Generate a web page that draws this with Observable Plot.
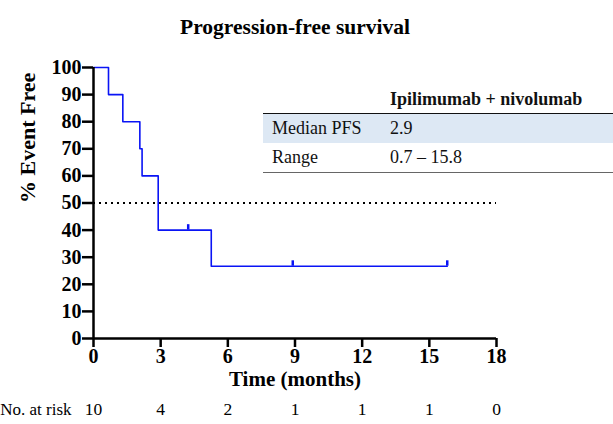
<!DOCTYPE html>
<html>
<head>
<meta charset="utf-8">
<script src="https://cdn.jsdelivr.net/npm/d3@7"></script>
<script src="https://cdn.jsdelivr.net/npm/@observablehq/plot@0.6"></script>
<style>
  body { margin: 0; background: white; }
  #wrap { position: relative; width: 613px; height: 424px; overflow: hidden; }
  #wrap svg, #wrap svg text { font-family: "Liberation Serif", "Times New Roman", Times, serif !important; }
  #tbl { position: absolute; left: 263px; top: 86px; width: 350px; border-collapse: collapse;
         font-family: "Liberation Serif", "Times New Roman", Times, serif; font-size: 18px; color: #111; }
  #tbl th { font-weight: bold; text-align: left; height: 27px; padding: 0; border-bottom: 1.5px solid #111; }
  #tbl td { height: 29px; padding: 0; }
  #tbl tr.shade td { background: #dde8f4; }
  #tbl tr.last td { border-bottom: 1.5px solid #666; }
  #tbl td.lab, #tbl th.lab { padding-left: 9px; width: 118px; }
</style>
</head>
<body>
<div id="wrap"></div>
<script>
const times = [0, 0.67, 1.31, 2.07, 2.17, 2.89, 5.26, 15.8];
const survival = [100, 90, 80, 70, 60, 40, 26.67, 26.67];
const censorTimes = [4.23, 8.9, 15.8];
const censorSurv = [40, 26.67, 26.67];
const xTicks = [0, 3, 6, 9, 12, 15, 18];
const yTicks = [0, 10, 20, 30, 40, 50, 60, 70, 80, 90, 100];
const atRisk = [10, 4, 2, 1, 1, 1, 0];
const medianLine = 50;
const tableHeader = ["", "Ipilimumab + nivolumab"];
const rowLabels = ["Median PFS", "Range"];
const rowValues = ["2.9", "0.7 \u2013 15.8"];

const curve = times.map((t, i) => ({t, s: survival[i]}));
const censor = censorTimes.map((t, i) => ({t, s: censorSurv[i]}));
const risk = xTicks.map((t, i) => ({t, n: atRisk[i]}));

const chart = Plot.plot({
  width: 613, height: 424,
  marginLeft: 93, marginRight: 117, marginTop: 67, marginBottom: 86,
  x: {domain: [0, 18]},
  y: {domain: [0, 100]},
  style: {fontFamily: "'Liberation Serif', 'Times New Roman', serif", background: "white", color: "black", overflow: "visible"},
  marks: [
    Plot.ruleY([medianLine], {x1: 0, x2: 18, stroke: "black", strokeWidth: 2, strokeDasharray: "2,4"}),
    Plot.line(curve, {x: "t", y: "s", curve: "step-after", stroke: "#0a14f5", strokeWidth: 1.6}),
    Plot.ruleX(censor, {x: "t", y1: "s", y2: d => d.s + 2, stroke: "#0a14f5", strokeWidth: 2.5}),
    Plot.axisX({ticks: xTicks, tickSize: 9, strokeWidth: 2.5, fontSize: 20, fontWeight: "bold", tickPadding: 1, label: null}),
    Plot.axisY({ticks: yTicks, tickSize: 11, strokeWidth: 2.5, fontSize: 20, fontWeight: "bold", tickPadding: 1, label: null}),
    Plot.ruleX([0], {stroke: "black", strokeWidth: 2.5}),
    Plot.ruleY([0], {stroke: "black", strokeWidth: 2.5}),
    Plot.text(["Progression-free survival"], {frameAnchor: "top", dy: -49, fontSize: 21.5, fontWeight: "bold"}),
    Plot.text(["Time (months)"], {frameAnchor: "bottom", dy: 47, fontSize: 21, fontWeight: "bold"}),
    Plot.text(["% Event Free"], {frameAnchor: "left", dx: -66, rotate: -90, fontSize: 22, fontWeight: "bold"}),
    Plot.text(risk, {x: "t", text: "n", frameAnchor: "bottom", dy: 76, fontSize: 17.5}),
    Plot.text(["No. at risk"], {frameAnchor: "bottom-left", dx: -22, dy: 76, textAnchor: "end", fontSize: 17})
  ]
});
const wrap = document.getElementById("wrap");
wrap.appendChild(chart);

const tbl = document.createElement("table");
tbl.id = "tbl";
let html = "<tr><th class='lab'>" + tableHeader[0] + "</th><th>" + tableHeader[1] + "</th></tr>";
rowLabels.forEach((l, i) => {
  const cls = i === 0 ? "shade" : "last";
  html += "<tr class='" + cls + "'><td class='lab'>" + l + "</td><td>" + rowValues[i] + "</td></tr>";
});
tbl.innerHTML = html;
wrap.appendChild(tbl);
</script>
</body>
</html>
